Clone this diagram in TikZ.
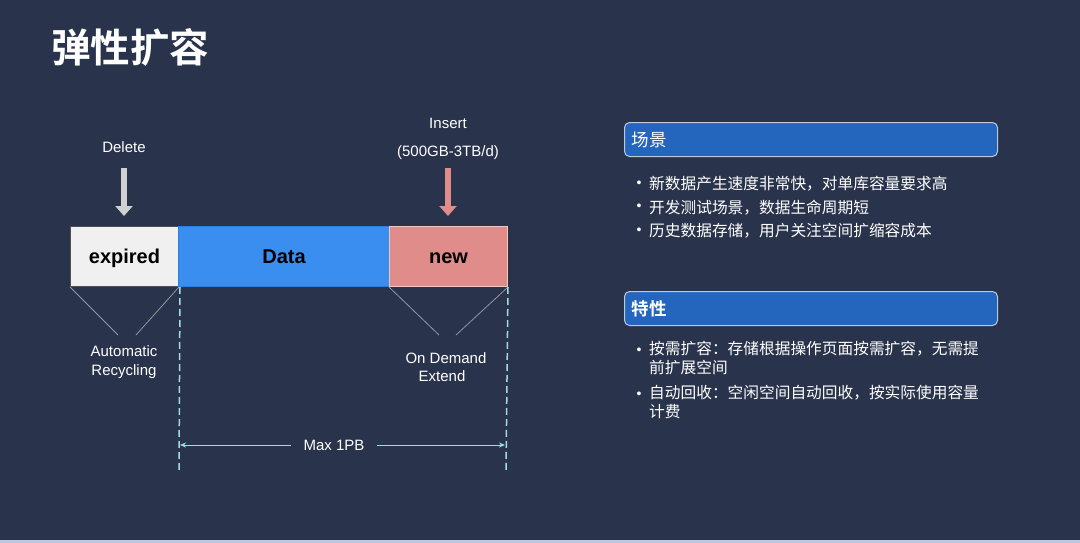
\documentclass[tikz,border=0pt]{standalone}
\usepackage{fontspec}
\setmainfont{Liberation Sans}
\newfontfamily\cjk{Noto Sans CJK SC}[BoldFont={Noto Sans CJK SC Bold}]
\usetikzlibrary{arrows.meta}
\definecolor{bg}{RGB}{41,51,75}
\definecolor{expfill}{RGB}{240,240,240}
\definecolor{expdraw}{RGB}{80,80,80}
\definecolor{datafill}{RGB}{58,142,240}
\definecolor{datadraw}{RGB}{45,125,225}
\definecolor{newfill}{RGB}{224,140,138}
\definecolor{newdraw}{RGB}{240,200,192}
\definecolor{arrgray}{RGB}{208,208,208}
\definecolor{cyanline}{RGB}{160,220,232}
\definecolor{hdrfill}{RGB}{36,102,190}
\definecolor{hdrdraw}{RGB}{190,200,220}
\definecolor{thin}{RGB}{150,150,155}
\tikzset{
  seg/.style={draw, line width=1pt, minimum height=60pt, anchor=north west, inner sep=0pt,
    text height=14.5pt, text depth=0pt,
    font=\fontsize{20}{24}\selectfont\bfseries, text=black},
  lbl/.style={text=white, font=\fontsize{15}{18.5}\selectfont, align=center, inner sep=1pt},
  blockarrow/.style={line width=6pt, -{Triangle[width=17pt,length=10pt]}},
  thinline/.style={draw=thin, line width=0.8pt},
  dashline/.style={draw=cyanline, line width=1.5pt, dash pattern=on 7pt off 4pt},
  maxarrow/.style={draw=cyanline, line width=1pt},
  hdr/.style={draw=hdrdraw, fill=hdrfill, line width=1pt, rounded corners=5pt, anchor=north west,
    text width=359pt, inner xsep=7pt, minimum height=34pt, align=left, text=white,
    font=\cjk\fontsize{17.5}{20}\selectfont},
  bul/.style={text=white, font=\fontsize{14}{16}\selectfont, inner sep=0pt},
  btxt/.style={text=white, font=\cjk\fontsize{15.7}{19.3}\selectfont, inner sep=0pt, align=left, anchor=north west},
}
\begin{document}
\begin{tikzpicture}[x=1pt,y=-1pt]
\fill[bg] (0,0) rectangle (1080,543);
\fill[hdrdraw] (0,540) rectangle (1080,543);
\useasboundingbox (0,0) rectangle (1080,543);
% title
\node[text=white, font=\cjk\fontsize{39.5}{42}\selectfont\bfseries, anchor=west, inner sep=0pt] (title) at (51,47) {弹性扩容};
% bar
\node[seg, fill=expfill, draw=expdraw, minimum width=108pt] (exp) at (70,226) {expired};
\node[seg, fill=datafill, draw=datadraw, minimum width=211pt] (data) at (178,226) {Data};
\node[seg, fill=newfill, draw=newdraw, minimum width=118pt] (new) at (389,226) {new};
% delete / insert
\node[lbl] (del) at (124,147) {Delete};
\node[lbl] (ins) at (448,123) {Insert};
\node[lbl] (rate) at (448,153) {(500GB-3TB/d)};
\coordinate (da1) at (124,168); \coordinate (da2) at (124,216);
\coordinate (ia1) at (448,168); \coordinate (ia2) at (448,216);
\draw[blockarrow, draw=arrgray, fill=arrgray] (da1) -- (da2);
\draw[blockarrow, draw=newfill, fill=newfill] (ia1) -- (ia2);
% funnels
\coordinate (r1) at (118,335); \coordinate (r2) at (136,335);
\coordinate (o1) at (439,335); \coordinate (o2) at (456,335);
\draw[thinline] (exp.south west) -- (r1);
\draw[thinline] (exp.south east) -- (r2);
\draw[thinline] (new.south west) -- (o1);
\draw[thinline] (new.south east) -- (o2);
\node[lbl] (rec) at (124,362) {Automatic\\Recycling};
\node[lbl] (ond) at (446,367) {On Demand\\\hspace*{-8pt}Extend};
% dashed bounds
\coordinate (d1) at (179,470); \coordinate (d2) at (506,470);
\draw[dashline] ([xshift=1pt]exp.south east) -- (d1);
\draw[dashline] (new.south east) -- (d2);
\coordinate (m1) at (180,445); \coordinate (m2) at (505,445);
\node[lbl, inner xsep=12pt] (max) at (334,445) {Max 1PB};
\draw[maxarrow, {Stealth[length=6pt,width=5pt]}-] (m1) -- (max.west);
\draw[maxarrow, -{Stealth[length=6pt,width=5pt]}] (max.east) -- (m2);
% right panel
\node[hdr] (h1) at (624,122) {场景};
\node[bul] (b1) at (639,184) {•};
\node[btxt, anchor=west] (t1) at (649,184) {新数据产生速度非常快，对单库容量要求高};
\node[bul] (b2) at (639,207.5) {•};
\node[btxt, anchor=west] (t2) at (649,207.5) {开发测试场景，数据生命周期短};
\node[bul] (b3) at (639,231) {•};
\node[btxt, anchor=west] (t3) at (649,231) {历史数据存储，用户关注空间扩缩容成本};
\node[hdr, font=\cjk\fontsize{17.5}{20}\selectfont\bfseries] (h2) at (624,291) {特性};
\node[bul] (b4) at (639,351) {•};
\node[btxt] (t4) at (649,341) {按需扩容：存储根据操作页面按需扩容，无需提\\前扩展空间};
\node[bul] (b5) at (639,395) {•};
\node[btxt] (t5) at (649,385) {自动回收：空闲空间自动回收，按实际使用容量\\计费};
\end{tikzpicture}
\end{document}
